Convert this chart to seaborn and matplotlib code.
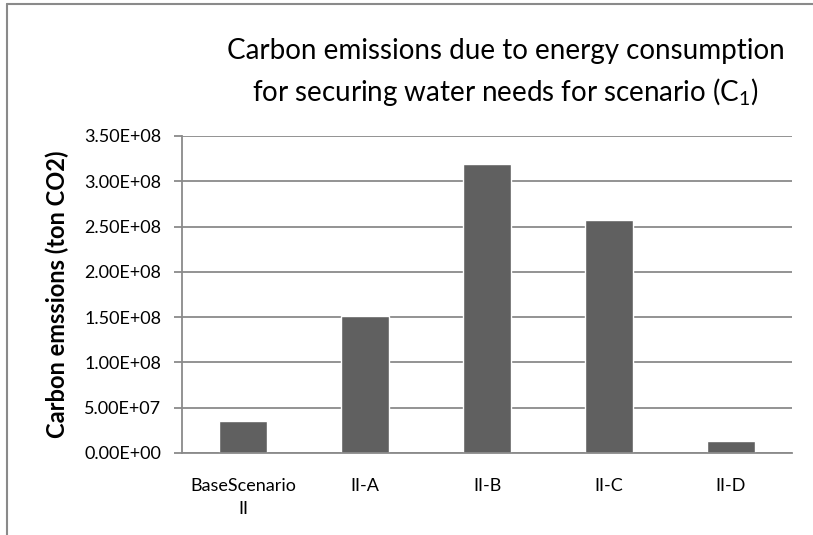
import matplotlib
matplotlib.use("Agg")
import matplotlib.pyplot as plt
from matplotlib.lines import Line2D
import seaborn as sns
import pandas as pd

# Scenario emissions (ton CO2)
scenarios = ["BaseScenario\nII", "II-A", "II-B", "II-C", "II-D"]
emissions = [3.55e7, 1.512e8, 3.187e8, 2.575e8, 1.36e7]
y_ticks = [0, 5e7, 1e8, 1.5e8, 2e8, 2.5e8, 3e8, 3.5e8]
y_tick_labels = ["0.00E+00", "5.00E+07", "1.00E+08", "1.50E+08",
                 "2.00E+08", "2.50E+08", "3.00E+08", "3.50E+08"]

sns.set_theme(style="white")
plt.rcParams["font.family"] = ["Lato", "DejaVu Sans"]
plt.rcParams["mathtext.fontset"] = "custom"
plt.rcParams["mathtext.rm"] = "Lato"
plt.rcParams["mathtext.it"] = "Lato"

grid_col = "#8a8a8a"
bar_col = "#606060"

df = pd.DataFrame({"scenario": scenarios, "emissions": emissions})

fig = plt.figure(figsize=(8.13, 5.35), dpi=100)
ax = fig.add_axes([0.2239, 0.1533, 0.7503, 0.5925])

sns.barplot(data=df, x="scenario", y="emissions", color=bar_col,
            saturation=1, width=0.4, ax=ax, zorder=3)

ax.set_xlim(-0.5, len(scenarios) - 0.5)
ax.set_ylim(0, 3.5e8)
ax.set_yticks(y_ticks)
ax.set_yticklabels(y_tick_labels)
ax.yaxis.grid(True, color=grid_col, linewidth=1.3, zorder=0)
ax.set_axisbelow(True)

for side in ["top", "right"]:
    ax.spines[side].set_visible(False)
for side in ["left", "bottom"]:
    ax.spines[side].set_color(grid_col)
    ax.spines[side].set_linewidth(1.3)
    ax.spines[side].set_zorder(4)

ax.tick_params(axis="y", which="major", left=True, length=6, width=1.3,
               color=grid_col, pad=9, labelsize=13, labelcolor="black")
ax.tick_params(axis="x", bottom=False, pad=12, labelsize=13,
               labelcolor="black")
for lbl in ax.get_xticklabels():
    lbl.set_linespacing(1.55)

ax.set_xlabel("")
ax.set_ylabel("Carbon emssions (ton CO2)", fontsize=17, fontweight="bold",
              color="black")
ax.yaxis.set_label_coords(-0.186, 0.5)

fig.text(0.622, 0.905, "Carbon emissions due to energy consumption",
         ha="center", va="center", fontsize=20, color="black")
fig.text(0.622, 0.828, "for securing water needs for scenario (C$_1$)",
         ha="center", va="center", fontsize=20, color="black")

# chart frame
fig.add_artist(Line2D([0.0086, 1.0], [0.9916, 0.9916], color=grid_col,
                      linewidth=1.5, transform=fig.transFigure))
fig.add_artist(Line2D([0.0086, 0.0086], [0.0, 0.9916], color=grid_col,
                      linewidth=1.5, transform=fig.transFigure))

fig.savefig("out.png", dpi=100)
